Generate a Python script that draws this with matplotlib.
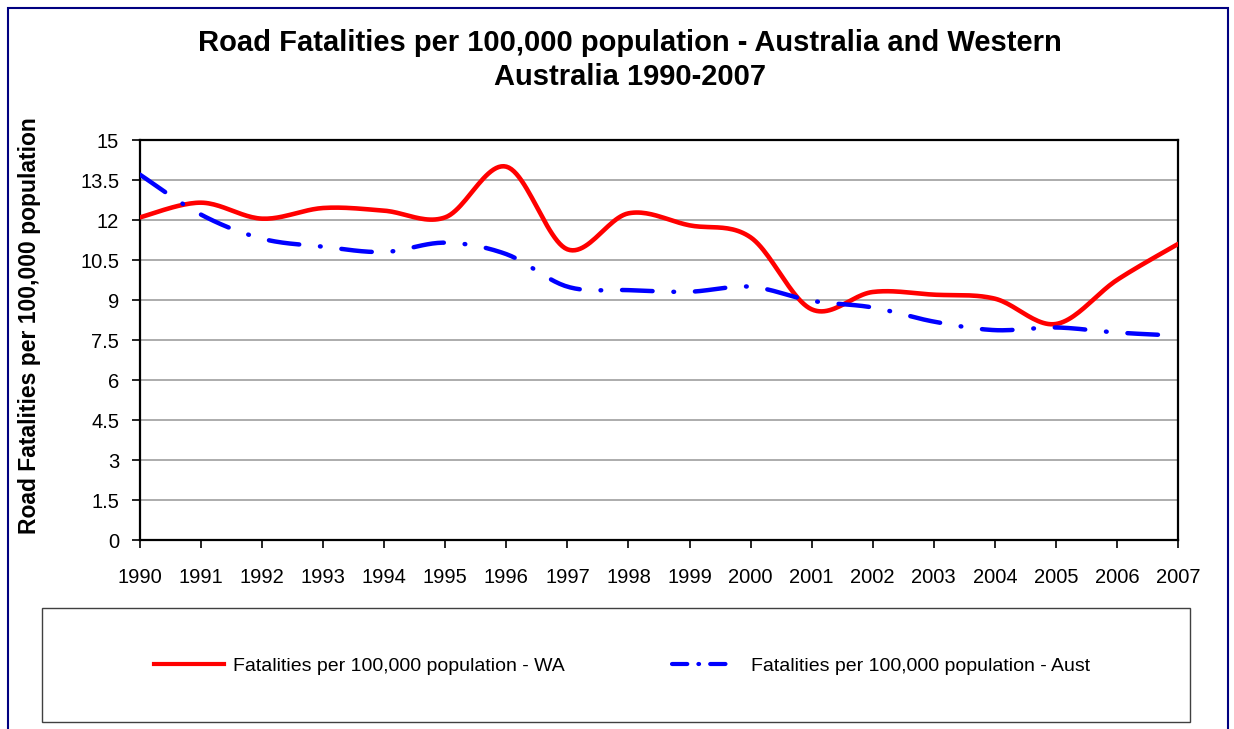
import numpy as np
import matplotlib
matplotlib.use("Agg")
import matplotlib.pyplot as plt
from matplotlib.patches import Rectangle
from matplotlib.lines import Line2D

plt.rcParams['font.family'] = ['Liberation Sans', 'DejaVu Sans']
plt.rcParams['lines.scale_dashes'] = False

years = list(range(1990, 2008))
wa = [12.1, 12.65, 12.05, 12.45, 12.35, 12.1, 14.0, 10.9, 12.25, 11.8, 11.35,
      8.65, 9.3, 9.2, 9.05, 8.1, 9.75, 11.1]
aust = [13.7, 12.2, 11.3, 11.0, 10.8, 11.15, 10.72, 9.5, 9.37, 9.31, 9.5,
        8.97, 8.72, 8.19, 7.87, 7.97, 7.78, 7.66]
yticks = [0, 1.5, 3, 4.5, 6, 7.5, 9, 10.5, 12, 13.5, 15]

title = "Road Fatalities per 100,000 population - Australia and Western\nAustralia 1990-2007"
ylabel = "Road Fatalities per 100,000 population"
wa_label = "Fatalities per 100,000 population - WA"
aust_label = "Fatalities per 100,000 population - Aust"


def smooth(x, y, n=24):
    # excel-like smoothed line: bezier segments with catmull-rom controls
    p = np.column_stack([x, y]).astype(float)
    out = []
    for i in range(len(p) - 1):
        p0 = p[i - 1] if i > 0 else p[i]
        p1, p2 = p[i], p[i + 1]
        p3 = p[i + 2] if i + 2 < len(p) else p[i + 1]
        c1 = p1 + (p2 - p0) / 6
        c2 = p2 - (p3 - p1) / 6
        t = np.linspace(0, 1, n, endpoint=(i == len(p) - 2))[:, None]
        seg = ((1 - t) ** 3) * p1 + 3 * ((1 - t) ** 2) * t * c1 + 3 * (1 - t) * t ** 2 * c2 + t ** 3 * p2
        out.append(seg)
    out = np.vstack(out)
    return out[:, 0], out[:, 1]


W, H = 1234, 729
fig = plt.figure(figsize=(W / 100, H / 100), dpi=100)
ax = fig.add_axes([140 / W, 1 - 540 / H, (1178 - 140) / W, 400 / H])

red, blue = '#ff0000', '#0000ff'
sx, sy = smooth(years, wa)
ax.plot(sx, sy, color=red, lw=3.3, solid_capstyle='round', zorder=3)
sx, sy = smooth(years, aust)
ax.plot(sx, sy, color=blue, lw=3.2, zorder=3,
        dash_capstyle='round', linestyle=(0, (22, 15, 0.5, 15)))

ax.set_xlim(1990, 2007)
ax.set_ylim(0, 15)
ax.set_xticks(years)
ax.set_xticklabels([str(y) for y in years])
ax.set_yticks(yticks)
ax.set_yticklabels(['%g' % v for v in yticks])
ax.grid(axis='y', color='#a6a6a6', lw=1.3)
ax.set_axisbelow(True)
for s in ax.spines.values():
    s.set_color('black')
    s.set_linewidth(1.6)
ax.tick_params(axis='both', direction='out', length=6, width=1.2, labelsize=14.5, colors='black')
ax.tick_params(axis='x', pad=14)
ax.tick_params(axis='y', pad=9)

fig.text(630 / W, 1 - 60 / H, title, ha='center', va='center', fontsize=21,
         fontweight='bold', linespacing=1.25)
fig.text(30 / W, 1 - 326 / H, ylabel, rotation=90, ha='center', va='center',
         fontsize=16.5, fontweight='bold')

# legend box
fig.patches.append(Rectangle((42 / W, 1 - 722 / H), (1190 - 42) / W, 114 / H,
                             transform=fig.transFigure, fill=False,
                             edgecolor='#404040', lw=1))
handles = [Line2D([], [], color=red, lw=3),
           Line2D([], [], color=blue, lw=3, dash_capstyle='round',
                  linestyle=(0, (11, 8, 0.5, 8, 11, 60)))]
fig.legend(handles, [wa_label, aust_label], loc='center',
           bbox_to_anchor=(622 / W, 1 - 666 / H), ncol=2,
           frameon=False, fontsize=14, handlelength=3.6, handletextpad=0.45,
           columnspacing=5.5)

# outer border
fig.patches.append(Rectangle((8 / W, -0.05), (1228 - 8) / W, 1 - 8 / H + 0.05,
                             transform=fig.transFigure, fill=False,
                             edgecolor='#000080', lw=1.5))

fig.savefig('out.png', dpi=100)
